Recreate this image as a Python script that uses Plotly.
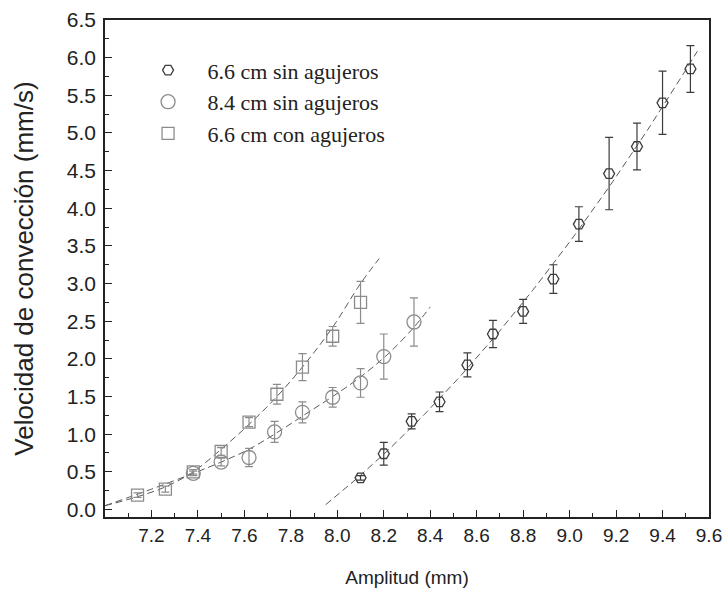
import numpy as np
import plotly.graph_objects as go

# 6.6 cm sin agujeros
amp_a = [8.10, 8.20, 8.32, 8.44, 8.56, 8.67, 8.80, 8.93, 9.04, 9.17, 9.29, 9.40, 9.52]
vel_a = [0.42, 0.74, 1.17, 1.43, 1.92, 2.33, 2.63, 3.06, 3.79, 4.46, 4.82, 5.40, 5.85]
err_a = [0.03, 0.15, 0.10, 0.13, 0.16, 0.18, 0.16, 0.19, 0.23, 0.48, 0.31, 0.42, 0.31]

# 8.4 cm sin agujeros
amp_b = [7.38, 7.50, 7.62, 7.73, 7.85, 7.98, 8.10, 8.20, 8.33]
vel_b = [0.48, 0.63, 0.69, 1.03, 1.29, 1.49, 1.68, 2.03, 2.49]
err_b = [0.03, 0.05, 0.12, 0.14, 0.14, 0.13, 0.19, 0.30, 0.32]

# 6.6 cm con agujeros
amp_c = [7.14, 7.26, 7.38, 7.50, 7.62, 7.74, 7.85, 7.98, 8.10]
vel_c = [0.19, 0.27, 0.50, 0.77, 1.16, 1.53, 1.89, 2.30, 2.75]
err_c = [0.03, 0.04, 0.03, 0.05, 0.06, 0.13, 0.18, 0.13, 0.28]

# x-extent of the quadratic fit for the 6.6 cm solid case
fit_range_a = [7.95, 9.55]

# fitted curves for the other two cases
fit_b_x = [7.00, 7.20, 7.38, 7.50, 7.62, 7.74, 7.86, 7.98, 8.10, 8.22, 8.33, 8.40]
fit_b_y = [0.05, 0.27, 0.48, 0.63, 0.80, 1.02, 1.26, 1.50, 1.76, 2.07, 2.42, 2.69]
fit_c_x = [7.00, 7.14, 7.26, 7.38, 7.50, 7.62, 7.74, 7.86, 7.98, 8.10, 8.18]
fit_c_y = [0.05, 0.17, 0.30, 0.50, 0.80, 1.13, 1.50, 1.93, 2.42, 3.00, 3.33]

names = ["6.6 cm sin agujeros", "8.4 cm sin agujeros", "6.6 cm con agujeros"]
x_ticks = [7.2, 7.4, 7.6, 7.8, 8.0, 8.2, 8.4, 8.6, 8.8, 9.0, 9.2, 9.4, 9.6]
y_ticks = [0.0, 0.5, 1.0, 1.5, 2.0, 2.5, 3.0, 3.5, 4.0, 4.5, 5.0, 5.5, 6.0, 6.5]

DARK = "#3c3c3c"
GREY = "#8c8c8c"
FIT = "#5a5a5a"

fig = go.Figure()

fit_line = dict(color=FIT, width=1, dash="7px,4px")

coef_a = np.polyfit(amp_a, vel_a, 2)
xf = np.linspace(fit_range_a[0], fit_range_a[1], 80)
fig.add_trace(go.Scatter(x=xf, y=np.polyval(coef_a, xf), mode="lines",
                         showlegend=False, line=fit_line, hoverinfo="skip"))
for fx, fy in [(fit_b_x, fit_b_y), (fit_c_x, fit_c_y)]:
    fig.add_trace(go.Scatter(x=fx, y=fy, mode="lines", showlegend=False,
                             line=dict(fit_line, shape="spline"), hoverinfo="skip"))

series = [
    (amp_a, vel_a, err_a, "hexagon2-open", 11, DARK),
    (amp_b, vel_b, err_b, "circle-open", 14, GREY),
    (amp_c, vel_c, err_c, "square-open", 12, GREY),
]
for name, (xs, ys, es, sym, size, col) in zip(names, series):
    fig.add_trace(go.Scatter(
        x=xs, y=ys, mode="markers", name=name,
        marker=dict(symbol=sym, size=size, color=col, line=dict(width=1.3, color=col)),
        error_y=dict(type="data", array=es, visible=True, color=col, thickness=1.2, width=4)))

axis_common = dict(showline=True, linecolor="#222222", linewidth=1.5, mirror=True,
                   ticks="inside", tickcolor="#222222", showgrid=False, zeroline=False,
                   automargin=False)

fig.update_xaxes(range=[7.0, 9.6], tickvals=x_ticks, ticktext=[f"{v:.1f}" for v in x_ticks],
                 ticklen=7, minor=dict(ticks="inside", ticklen=4, dtick=0.1, tickcolor="#222222"),
                 tickfont=dict(family="Liberation Sans, Arial", size=19, color="#222222"),
                 title=dict(text="Amplitud (mm)", standoff=26,
                            font=dict(family="Liberation Sans, Arial", size=19, color="#222222")),
                 **axis_common)
fig.update_yaxes(range=[-0.1, 6.5], tickvals=y_ticks, ticktext=[f"{v:.1f}" for v in y_ticks],
                 ticklen=7, minor=dict(ticks="inside", ticklen=4, dtick=0.25, tickcolor="#222222"),
                 tickfont=dict(family="Liberation Sans, Arial", size=21, color="#222222"),
                 ticklabelstandoff=3,
                 title=dict(text="Velocidad de convección (mm/s)", standoff=26,
                            font=dict(family="Liberation Sans, Arial", size=26, color="#222222")),
                 **axis_common)

fig.update_layout(
    width=728, height=590,
    margin=dict(l=105, r=19, t=20, b=73),
    paper_bgcolor="white", plot_bgcolor="white",
    legend=dict(x=0.039, y=0.941, xanchor="left", yanchor="top", bgcolor="rgba(0,0,0,0)",
                font=dict(family="Liberation Serif, Times New Roman", size=22, color="#222222"),
                tracegroupgap=0, itemwidth=69),
)

fig.write_html("out.html")
